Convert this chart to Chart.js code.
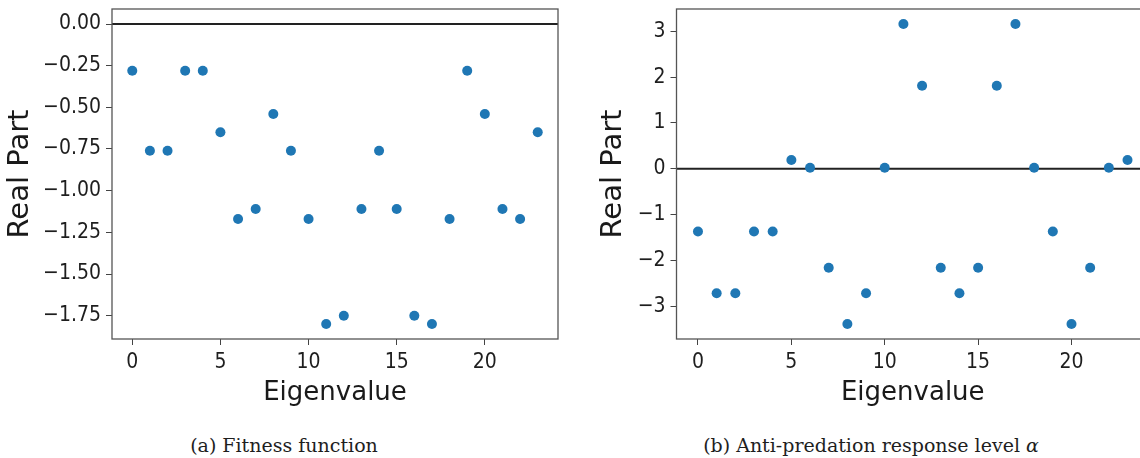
<!DOCTYPE html>
<html>
<head>
<meta charset="utf-8">
<script src="https://cdn.jsdelivr.net/npm/chart.js@4.4.0/dist/chart.umd.min.js"></script>
<style>
  html, body { margin: 0; padding: 0; background: #fff; width: 1140px; height: 458px; overflow: hidden; }
  .panel { position: absolute; top: 0; height: 420px; overflow: hidden; }
  #wrapA { left: 0; width: 570px; }
  #wrapB { left: 570px; width: 570px; }
  .caption { position: absolute; top: 434px; line-height: 22px; font-family: "DejaVu Serif", serif; font-size: 19px;
             color: #1e1e1e; white-space: nowrap; transform: translateX(-50%); }
</style>
</head>
<body>
<div class="panel" id="wrapA"><canvas id="chartA" width="570" height="420"></canvas></div>
<div class="panel" id="wrapB"><canvas id="chartB" width="590" height="420"></canvas></div>
<div class="caption" style="left:284px">(a) Fitness function</div>
<div class="caption" style="left:871px">(b) Anti-predation response level <i>α</i></div>
<script>
// eigenvalue index on the x axis
const eigenIndex = [0, 1, 2, 3, 4, 5, 6, 7, 8, 9, 10, 11, 12, 13, 14, 15, 16, 17, 18, 19, 20, 21, 22, 23];

// (a) fitness function - real parts
const fitnessReal = [-0.28, -0.76, -0.76, -0.28, -0.28, -0.65, -1.17, -1.11, -0.54, -0.76, -1.17, -1.80,
                     -1.75, -1.11, -0.76, -1.11, -1.75, -1.80, -1.17, -0.28, -0.54, -1.11, -1.17, -0.65];

// (b) anti-predation response level - real parts
const antiPredReal = [-1.37, -2.72, -2.72, -1.37, -1.37, 0.19, 0.02, -2.16, -3.39, -2.72, 0.02, 3.16,
                      1.81, -2.16, -2.72, -2.16, 1.81, 3.16, 0.02, -1.37, -3.39, -2.16, 0.02, 0.19];

// tick labels
const xTickValues = [0, 5, 10, 15, 20];
const fitnessTicks = [0, -0.25, -0.5, -0.75, -1.0, -1.25, -1.5, -1.75];
const antiPredTicks = [3, 2, 1, 0, -1, -2, -3];

const textColor = "#1e1e1e";
const fontFamily = "'DejaVu Sans', sans-serif";
const tickFamily = "'DejaVu Sans Condensed', 'DejaVu Sans', sans-serif";

// matplotlib style: 5% margin around data (axhline at 0 included)
function paddedRange(vals) {
  const lo = Math.min(0, ...vals), hi = Math.max(0, ...vals);
  const m = (hi - lo) * 0.05;
  return [lo - m, hi + m];
}

// box around the axes and the black line at y = 0
const axesFrame = {
  id: "axesFrame",
  beforeDatasetsDraw(chart) {
    const { ctx, chartArea: a, scales: { y } } = chart;
    const y0 = y.getPixelForValue(0);
    ctx.save();
    ctx.strokeStyle = "#222";
    ctx.lineWidth = 2.2;
    ctx.beginPath();
    ctx.moveTo(a.left, y0);
    ctx.lineTo(a.right, y0);
    ctx.stroke();
    ctx.restore();
  },
  afterDraw(chart) {
    const { ctx, chartArea: a } = chart;
    ctx.save();
    ctx.strokeStyle = "#555";
    ctx.lineWidth = 1.3;
    ctx.strokeRect(a.left, a.top, a.right - a.left, a.bottom - a.top);
    ctx.restore();
  }
};

function buildChart(canvasId, values, yTicks, decimals, opts) {
  const [yMin, yMax] = paddedRange(values);
  return new Chart(document.getElementById(canvasId).getContext("2d"), {
    type: "scatter",
    data: {
      datasets: [{
        data: eigenIndex.map((x, i) => ({ x: x, y: values[i] })),
        backgroundColor: "#1f77b4",
        borderWidth: 0,
        pointRadius: 5,
        pointHoverRadius: 5
      }]
    },
    options: {
      responsive: false,
      animation: false,
      devicePixelRatio: 1,
      layout: { padding: { top: 9, right: opts.padRight, bottom: 0, left: 0 } },
      plugins: { legend: { display: false }, tooltip: { enabled: false } },
      scales: {
        x: {
          type: "linear",
          min: -1.15,
          max: 24.15,
          afterBuildTicks: (s) => { s.ticks = xTickValues.map((v) => ({ value: v })); },
          afterFit: (s) => { s.height = 81; s.paddingLeft = 0; s.paddingRight = 0; },
          ticks: { color: textColor, font: { family: tickFamily, size: 21 }, padding: 5, maxRotation: 0 },
          grid: { drawOnChartArea: false, drawTicks: true, tickLength: 6, color: "#444" },
          border: { display: false },
          title: { display: true, text: "Eigenvalue", color: "#1a1a1a",
                   font: { family: fontFamily, size: 26 }, padding: { top: 0, bottom: 11 } }
        },
        y: {
          type: "linear",
          min: yMin,
          max: yMax,
          afterBuildTicks: (s) => { s.ticks = yTicks.map((v) => ({ value: v })); },
          afterFit: (s) => { s.width = opts.yWidth; s.paddingTop = 0; s.paddingBottom = 0; },
          ticks: {
            color: textColor, font: { family: tickFamily, size: 21 }, padding: 5,
            callback: (v) => (v < 0 ? "\u2212" : "") + Math.abs(v).toFixed(decimals)
          },
          grid: { drawOnChartArea: false, drawTicks: true, tickLength: 6, color: "#444" },
          border: { display: false },
          title: { display: true, text: "Real Part", color: "#1a1a1a",
                   font: { family: fontFamily, size: 29 }, padding: { top: opts.titlePad, bottom: 0 } }
        }
      }
    },
    plugins: [axesFrame]
  });
}

buildChart("chartA", fitnessReal, fitnessTicks, 2, { padRight: 12, yWidth: 112, titlePad: 3.5 });
buildChart("chartB", antiPredReal, antiPredTicks, 0, { padRight: 11, yWidth: 106.5, titlePad: 26 });
</script>
</body>
</html>
